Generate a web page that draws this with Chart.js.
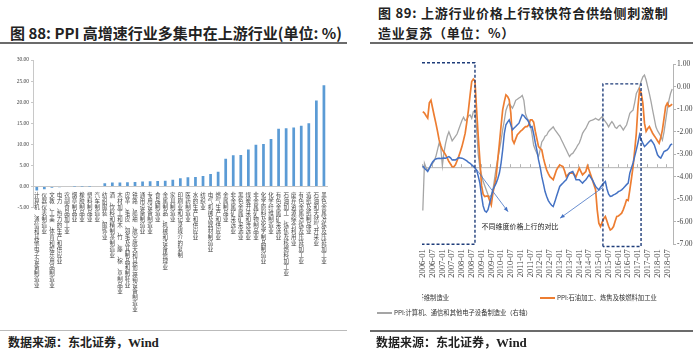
<!DOCTYPE html>
<html>
<head>
<meta charset="utf-8">
<script src="https://cdn.jsdelivr.net/npm/chart.js@4.4.1/dist/chart.umd.min.js"></script>
<style>
  body { margin: 0; background: #fff; }
  #page { position: relative; width: 700px; height: 352px; overflow: hidden; font-family: "Noto Sans CJK SC", sans-serif; color: #222; }
  .abs { position: absolute; white-space: nowrap; }
  .rule { position: absolute; height: 2px; background: #6b6b6b; }
  .t88 { left: 10px; top: 23px; font-size: 15px; line-height: 20px; font-weight: 700; }
  .t89 { left: 378px; font-size: 13px; line-height: 20px; font-weight: 700; letter-spacing: 0.75px; }
  .src { top: 334px; font-size: 12px; line-height: 16px; font-weight: 700; }
  .src span { font-family: "Liberation Serif", serif; font-size: 13px; }
  .leg { font-size: 6.3px; line-height: 8px; color: #333; }
  .swatch { position: absolute; height: 2px; }
  .box { position: absolute; }
</style>
</head>
<body>
<div id="page">
  <div class="abs t88">图 88: PPI 高增速行业多集中在上游行业(单位: %)</div>
  <div class="rule" style="left:0;top:42px;width:347px;"></div>
  <div class="abs t89" style="top:3px;">图 89: 上游行业价格上行较快符合供给侧刺激制</div>
  <div class="abs t89" style="top:23px;">造业复苏（单位：%）</div>
  <div class="rule" style="left:370px;top:42px;width:323px;"></div>

  <div class="box" style="left:0;top:45px;width:345px;height:287px;"><canvas id="left" width="345" height="287"></canvas></div>
  <div class="box" style="left:360px;top:45px;width:340px;height:250px;"><canvas id="right" width="340" height="250"></canvas></div>

  <div class="abs leg" style="left:422px;top:294px;width:60px;height:9px;overflow:hidden;">
    <span style="position:absolute;right:33px;top:0;">PPI:化学纤维制造业</span>
  </div>
  <div class="swatch" style="left:540px;top:297px;width:15px;background:#ed7d31;"></div>
  <div class="abs leg" style="left:557px;top:294px;">PPI:石油加工、炼焦及核燃料加工业</div>
  <div class="swatch" style="left:377px;top:312px;width:15px;background:#a5a5a5;"></div>
  <div class="abs leg" style="left:394px;top:309px;">PPI:计算机、通信和其他电子设备制造业（右轴）</div>

  <div class="rule" style="left:0;top:330px;width:347px;height:1px;background:#bbb;"></div>
  <div class="rule" style="left:370px;top:330px;width:323px;"></div>
  <div class="abs src" style="left:8px;">数据来源：东北证券，<span>Wind</span></div>
  <div class="abs src" style="left:376px;">数据来源：东北证券，<span>Wind</span></div>
</div>

<script>
/* ====== left: PPI growth by industry ===== */
const industries = [
  '计算机、通信和其他电子设备制造业', '仪器仪表制造业', '文教、工美、体育和娱乐用品制造业',
  '电力、热力的生产和供应业', '农副食品加工业', '烟草制品业', '橡胶制品业', '塑料制品业',
  '汽车制造业', '纺织服装、服饰业', '酒、饮料和精制茶制造业', '木材加工和木、竹、藤、棕、草制品业',
  '皮革、毛皮、羽毛及其制品和制鞋业', '铁路、船舶、航空航天和其他运输设备制造业', '通用设备制造业',
  '专用设备制造业', '食品制造业', '金属制品、机械和设备修理业', '家具制造业', '印刷业和记录媒介的复制',
  '医药制造业', '水的生产和供应业', '纺织业', '电气机械及器材制造业', '燃气生产和供应业',
  '金属制品业', '非金属矿采选业', '黑色金属矿采选业', '煤炭开采和洗选业', '非金属矿物制品业',
  '化学原料及化学制品制造业', '化学纤维制造业', '有色金属矿采选业', '石油加工、炼焦及核燃料加工业',
  '废弃资源综合利用业', '有色金属冶炼及压延加工业', '造纸及纸制品业', '石油和天然气开采业',
  '黑色金属冶炼及压延加工业'
];
const ppiGrowth = [
  -0.9, -0.6, -0.25, -0.15, 0.0, 0.01, 0.02, 0.05, 0.15, 0.8,
  0.95, 1.0, 1.05, 1.1, 1.2, 1.25, 1.35, 1.4, 1.65, 2.0,
  2.2, 2.3, 2.5, 3.0, 3.5, 6.6, 7.4, 7.5, 8.8, 9.9,
  10.1, 11.3, 13.7, 13.8, 14.0, 14.4, 15.0, 20.4, 24.0
];
const leftTicks = [-5, 0, 5, 10, 15, 20, 25, 30];

/* ====== right: upstream vs manufacturing PPI ===== */
const months = [];
for (let y = 2006; y <= 2018; y++) {
  for (let m = 1; m <= 12; m++) {
    if (y === 2018 && m > 10) break;
    months.push(y + '-' + String(m).padStart(2, '0'));
  }
}
// PPI: 化学纤维制造业 (left axis, hidden)
const fiberPPI = [
  0.5, -0.4, -1.0, -1.7, -0.5, 0.9, 2.0, 2.8, 3.2, 3.4, 3.5, 3.4,
  3.5, 3.6, 3.5, 3.8, 4.1, 3.6, 2.8, 2.9, 2.8, 3.2, 3.7, 3.6,
  3.5, 3.2, 2.8, 2.4, 1.9, 1.5, 0.9, 0.3, -0.3, -1.1, -3.5, -6.2,
  -11, -15, -17, -17.5, -16.5, -14, -11.5, -8.8, -7.5, -6.2, -4.5, -2.3,
  1.5, 6.7, 13, 16.5, 17.5, 18.4, 16.5, 14.5, 15.2, 15.8, 16.5, 17.1,
  18.8, 20.4, 20, 19.1, 18.5, 17.5, 15.5, 15.8, 13, 9.5, 6.5, 2.8,
  0, -3.7, -6.5, -9.5, -11.4, -13, -14, -14.8, -15.3, -13.5, -11.4, -9.5,
  -7.5, -6.8, -6.2, -5.5, -4.9, -3.5, -2.3, -2.0, -1.7, -3.2, -4.9, -4.9,
  -4.9, -5.6, -6.2, -5.5, -4.9, -4.0, -3.0, -4.0, -4.9, -6.2, -7.5, -8.2,
  -8.8, -7.8, -6.9, -6.2, -5.6, -8.5, -10.5, -11.4, -11.2, -10.8, -10.5, -10.1,
  -9.5, -9.2, -8.8, -8.2, -7.5, -6.8, -6.2, -2.3, -0.3, 1.6, 4.2, 6.7,
  9.5, 12.6, 10.6, 9.3, 8.0, 8.6, 9.3, 10.0, 10.6, 9.7, 8.7, 6.8,
  4.8, 4.0, 3.5, 4.8, 6.1, 6.4, 6.7, 7.5, 8.7, 9.0
];
// PPI: 石油加工、炼焦及核燃料加工业 (left axis, hidden)
const oilPPI = [
  21.6, 21, 20, 19.1, 25, 26, 23, 20, 17.1, 14, 10.6, 8.5,
  6.7, 5.8, 4.8, 3.5, 2.2, 1.2, 0.2, 0.1, 0.9, 2.5, 4.1, 6,
  8, 10.5, 13.2, 17.5, 22.3, 28, 33.3, 34.2, 33.5, 22.3, 12, 2.8,
  -7, -10.5, -11.4, -11.3, -11.2, -13, -14.7, -10.1, -7, -3.7, 3, 9.3,
  16, 22.3, 25.5, 28.1, 27.5, 26.2, 21, 10.6, 9.3, 11, 12.6, 13.3,
  14, 14.5, 15.2, 15.8, 15.8, 16.5, 18.4, 18.4, 17.5, 14, 11, 8.0,
  7.3, 6.7, 3.5, 1, -1.1, -2.5, -3.7, -4.3, -4.9, -3, -1.1, 0,
  0.9, 0.5, 0.2, -1.5, -3.7, -3, -2.3, -2.3, -2.3, -3, -3.7, -2,
  -0.4, -1.7, -3.0, -2.3, -1.7, 0.5, -1.1, -3, -4.9, -6.8, -8.8, -16.6,
  -21.8, -23.1, -21.5, -20, -19.2, -21, -23, -24.4, -24, -23.1, -21, -19.2,
  -19, -18.5, -17.9, -16.5, -14.7, -12.7, -13, -8.8, -4.5, 0.2, 6.5, 13.2,
  23.6, 30.1, 28.8, 24.9, 17.1, 13.9, 15, 15.8, 14.5, 13.2, 12.2, 11.3,
  10.3, 9.3, 11.5, 14.5, 19, 23.6, 24.9, 23.6, 24, 24.5
];
// PPI: 计算机、通信和其他电子设备制造业 (right axis)
const elecPPI = [
  -5.5, -3.4, -3.6, -3.7, -3.6, -3.5, -3.4, -3.3, -3.1, -2.8, -2.5, -2.7,
  -3.5, -2.9, -2.5, -2.2, -2.0, -2.2, -2.4, -2.3, -2.2, -2.1, -1.9, -1.7,
  -1.5, -1.35, -1.5, -1.45, -1.3, -1.25, -1.4, -1.1, -1.05, -1.9, -3.0, -3.6,
  -3.9, -4.2, -4.4, -4.6, -4.8, -4.9, -4.8, -4.6, -4.1, -3.6, -3.2, -2.8,
  -2.4, -1.9, -1.5, -1.05, -0.85, -0.75, -0.85, -0.95, -0.8, -0.6, -0.55, -0.5,
  -0.45, -0.38, -0.6, -1.2, -1.4, -1.5, -1.7, -2.1, -2.6, -2.8, -2.95, -3.1,
  -2.8, -2.45, -2.35, -2.2, -2.15, -2.0, -1.92, -1.85, -1.78, -1.9, -2.0, -2.1,
  -2.2, -2.35, -2.5, -2.65, -2.8, -2.95, -3.1, -3.0, -2.96, -2.85, -2.74, -2.6,
  -2.5, -2.3, -2.07, -1.95, -1.85, -1.7, -1.55, -1.5, -1.48, -1.45, -1.4, -1.45,
  -1.48, -1.4, -1.33, -1.45, -1.55, -1.65, -1.78, -1.65, -1.55, -1.65, -1.8, -1.85,
  -1.75, -1.7, -1.8, -1.92, -1.8, -1.7, -1.45, -1.18, -1.1, -1.04, -0.7, -0.3,
  -0.15, 0.0, 0.25, 0.44, 0.52, 0.3, 0.0, -0.3, -0.65, -1.04, -1.4, -1.78,
  -1.95, -2.07, -2.2, -2.37, -2.0, -1.5, -1.0, -0.6, -0.3, -0.1
];
const rightTicks = [1, 0, -1, -2, -3, -4, -5, -6, -7];

// highlight boxes and arrows, in (month index, right-axis value)
const dashBoxes = [
  { x0: -0.5, x1: 32, top: 1.07, bottom: -7.0, leftSide: false },
  { x0: 110.5, x1: 133.9, top: 0.13, bottom: -7.1, leftSide: true }
];
const arrows = [
  { from: [33.2, -3.7], to: [52.3, -5.55] },
  { from: [110.5, -4.47], to: [84.2, -5.84] }
];
const note = { text: '不同维度价格上行的对比', at: [59.6, -6.2] };

const leftChart = new Chart(document.querySelector('#left'), {
  type: 'bar',
  data: {
    labels: industries.map(s => Array.from(s)),
    datasets: [{
      data: ppiGrowth,
      backgroundColor: '#5b9bd5',
      barPercentage: 0.45,
      categoryPercentage: 0.8
    }]
  },
  options: {
    responsive: false,
    animation: false,
    layout: { padding: { top: 15, left: 0, right: 17.3, bottom: 124.3 } },
    plugins: { legend: { display: false }, tooltip: { enabled: false } },
    scales: {
      x: {
        position: { y: 0 },
        grid: { display: false, drawTicks: false },
        border: { display: true, color: '#c8c8c8' },
        ticks: {
          autoSkip: false, maxRotation: 0, padding: 5, color: '#444',
          font: { family: 'Noto Sans CJK SC', size: 5.5, lineHeight: '6px' }
        }
      },
      y: {
        min: -5, max: 30,
        afterBuildTicks: s => { s.ticks = leftTicks.map(v => ({ value: v })); },
        afterFit: s => { s.width = 33; },
        grid: { drawOnChartArea: false, tickLength: 2, color: '#c8c8c8' },
        border: { color: '#c8c8c8' },
        ticks: {
          padding: 2, color: '#444',
          font: { family: 'Liberation Serif', size: 5.5 },
          callback: v => v.toFixed(2)
        }
      }
    }
  }
});

const overlay = {
  id: 'overlay',
  beforeDatasetsDraw(chart) {
    const { ctx, chartArea: a, scales } = chart;
    const y0 = scales.yL.getPixelForValue(0);
    ctx.save();
    ctx.strokeStyle = '#b4b4b4';
    ctx.lineWidth = 1;
    ctx.beginPath();
    ctx.moveTo(a.left, y0 + 0.5);
    ctx.lineTo(a.right, y0 + 0.5);
    months.forEach((m, i) => {
      if (/-(01|07)$/.test(m)) {
        const px = Math.round(scales.x.getPixelForValue(i - 0.5)) + 0.5;
        ctx.moveTo(px, y0);
        ctx.lineTo(px, y0 - 3);
      }
    });
    ctx.stroke();
    ctx.restore();
  },
  afterDatasetsDraw(chart) {
    const { ctx, scales } = chart;
    const px = i => scales.x.getPixelForValue(i);
    const py = v => scales.yR.getPixelForValue(v);
    ctx.save();
    ctx.strokeStyle = '#1f3d7a';
    ctx.lineWidth = 1.4;
    ctx.setLineDash([3, 2]);
    dashBoxes.forEach(b => {
      const l = px(b.x0), r = px(b.x1), t = py(b.top), btm = py(b.bottom);
      ctx.beginPath();
      if (b.leftSide) { ctx.moveTo(l, btm); ctx.lineTo(l, t); } else { ctx.moveTo(l, t); }
      ctx.lineTo(r, t);
      ctx.lineTo(r, btm);
      ctx.lineTo(l, btm);
      ctx.stroke();
    });
    ctx.setLineDash([]);
    ctx.strokeStyle = '#4472c4';
    ctx.fillStyle = '#4472c4';
    ctx.lineWidth = 0.8;
    arrows.forEach(a => {
      const x0 = px(a.from[0]), y0 = py(a.from[1]), x1 = px(a.to[0]), y1 = py(a.to[1]);
      const ang = Math.atan2(y1 - y0, x1 - x0);
      ctx.beginPath();
      ctx.moveTo(x0, y0);
      ctx.lineTo(x1, y1);
      ctx.stroke();
      ctx.beginPath();
      ctx.moveTo(x1, y1);
      ctx.lineTo(x1 - 5 * Math.cos(ang - 0.4), y1 - 5 * Math.sin(ang - 0.4));
      ctx.lineTo(x1 - 5 * Math.cos(ang + 0.4), y1 - 5 * Math.sin(ang + 0.4));
      ctx.closePath();
      ctx.fill();
    });
    ctx.fillStyle = '#222';
    ctx.font = '7px "Noto Sans CJK SC"';
    ctx.textAlign = 'center';
    ctx.textBaseline = 'middle';
    ctx.fillText(note.text, px(note.at[0]), py(note.at[1]));
    ctx.restore();
  }
};

const rightChart = new Chart(document.querySelector('#right'), {
  type: 'line',
  data: {
    labels: months,
    datasets: [
      { data: fiberPPI, yAxisID: 'yL', borderColor: '#4472c4', borderWidth: 1.5 },
      { data: oilPPI, yAxisID: 'yL', borderColor: '#ed7d31', borderWidth: 1.7 },
      { data: elecPPI, yAxisID: 'yR', borderColor: '#a5a5a5', borderWidth: 1.3 }
    ]
  },
  options: {
    responsive: false,
    animation: false,
    elements: { point: { radius: 0 }, line: { tension: 0 } },
    layout: { padding: { top: 19.3, left: 62, right: 0, bottom: 0 } },
    plugins: { legend: { display: false }, tooltip: { enabled: false } },
    scales: {
      x: {
        offset: true,
        afterFit: s => { s.height = 50.7; },
        grid: { display: false, drawTicks: false },
        border: { display: false },
        ticks: {
          autoSkip: false, minRotation: 90, maxRotation: 90, padding: 5, color: '#444',
          font: { family: 'Liberation Serif', size: 8.5 },
          callback: (v, i) => (/-(01|07)$/.test(months[i]) ? months[i] : '')
        }
      },
      yL: { display: false, min: -30, max: 40 },
      yR: {
        position: 'right',
        min: -7, max: 1,
        afterBuildTicks: s => { s.ticks = rightTicks.map(v => ({ value: v })); },
        afterFit: s => { s.width = 27; },
        grid: { drawOnChartArea: false, tickLength: 3, color: '#b4b4b4' },
        border: { color: '#b4b4b4' },
        ticks: {
          padding: 1, color: '#444',
          font: { family: 'Liberation Serif', size: 7.5 },
          callback: v => v.toFixed(2)
        }
      }
    }
  },
  plugins: [overlay]
});
</script>
</body>
</html>
